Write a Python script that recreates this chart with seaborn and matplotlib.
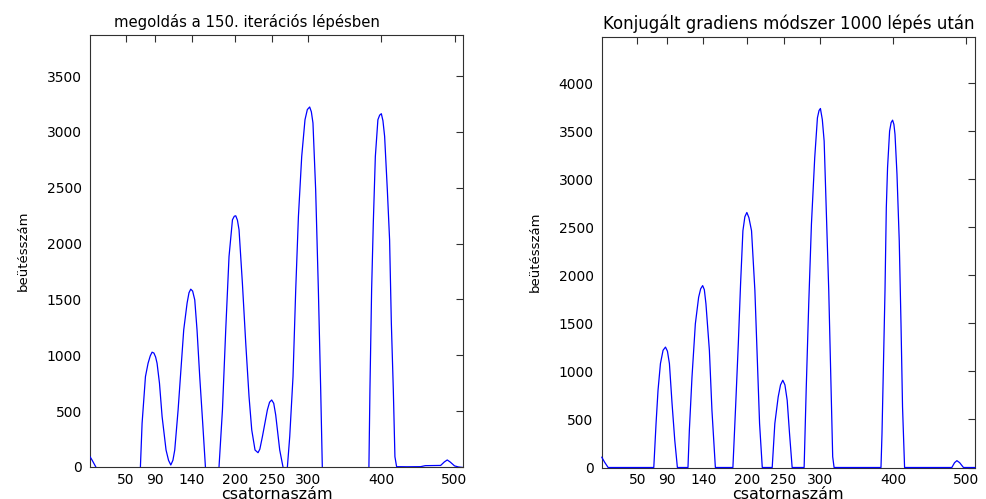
import numpy as np
import pandas as pd
import matplotlib
matplotlib.use("Agg")
import matplotlib.pyplot as plt
import seaborn as sns

# Reconstructed spectrum after 150 iterations (negative parts fall below the axis)
left_channel = [1, 4, 9, 20, 40, 60, 70, 72.3, 76.9, 80.5, 83.5, 86, 88.5, 90.8, 92.8,
                96.1, 99.7, 105.1, 108.5, 111.6, 114.5, 117, 121.6, 124.8, 129.3,
                133.9, 136.5, 138.9, 141.5, 144.4, 147.5, 151.2, 155.3, 159, 168,
                177.6, 182.3, 186.8, 191.3, 196, 198.5, 200.5, 202.8, 205, 209.6,
                214.2, 218.7, 222.4, 226.9, 231, 233.5, 237, 243.8, 246.8, 249.7,
                252.5, 255.2, 260.7, 265.2, 268, 271.2, 274.4, 278.9, 282.6, 286.3,
                290.8, 295.3, 298.5, 301.7, 304, 306.2, 309.9, 313.6, 316.8, 319,
                335, 355, 372, 382.8, 384.2, 386.5, 388.8, 391.6, 395.1, 397.5,
                399.8, 402, 404.3, 408, 411.1, 413.5, 416.2, 418.4, 420.7, 435,
                453.6, 460, 481, 486, 490, 494, 500, 505.5, 512]
left_counts = [92, 60, 0, -200, -300, -200, 0, 391, 809, 929, 995, 1028, 1020, 985, 929,
               750, 451, 152, 60, 18, 60, 152, 511, 809, 1228,
               1467, 1560, 1592, 1575, 1496, 1228, 809, 391, 0, -250,
               0, 511, 1228, 1884, 2213, 2245, 2249, 2210, 2124, 1646,
               1108, 630, 332, 152, 128, 160, 272, 511, 580, 600,
               570, 466, 152, 0, -40, 0, 272, 809, 1586, 2243,
               2780, 3109, 3200, 3223, 3180, 3080, 2482, 1586, 690, 0,
               -400, -500, -300, 0, 690, 1586, 2184, 2780, 3109, 3150,
               3163, 3100, 2960, 2482, 2034, 1288, 690, 92, 3, 2,
               3, 12, 14, 45, 63, 45, 10, 0, -5]

# Conjugate gradient solution after 1000 steps (non-negative)
right_channel = [1, 5, 9.8, 72.3, 75.4, 78.1, 81.4, 85, 88.3, 91, 93.7, 97.3, 101, 104.6,
                 119.1, 121, 124.6, 129.2, 133.7, 136.5, 139.2, 141.5, 143.7, 148.4,
                 151.9, 156.6, 180.6, 184.3, 188, 191.1, 194.3, 197, 199.7, 202.5,
                 206.1, 210.7, 213.9, 217.1, 220.8, 234.4, 238, 242.6, 245.8, 248.9,
                 251.8, 254.9, 258.1, 261.7, 278.1, 280.9, 284.4, 288.1, 292.6, 296.3,
                 298.5, 300.4, 303, 305.5, 309, 311.8, 314.5, 317.2, 319.1, 383.3,
                 384.7, 386.9, 388.8, 390.6, 392.3, 395.1, 397.2, 399.2, 401, 402.5,
                 405.2, 408.3, 410.7, 412.8, 415.6, 480.3, 484, 487.2, 491, 496.2, 512]
right_counts = [108, 55, 0, 0, 458, 804, 1081, 1220, 1253, 1210, 1081, 666, 285, 0,
                0, 389, 942, 1496, 1772, 1860, 1893, 1850, 1703, 1219,
                596, 0, 0, 631, 1288, 1911, 2464, 2610, 2654, 2600,
                2464, 1841, 1149, 458, 0, 0, 458, 735, 860, 908,
                860, 700, 355, 0, 0, 804, 1703, 2533, 3224, 3639,
                3715, 3736, 3620, 3397, 2533, 1841, 977, 112, 0, 0,
                355, 1149, 1841, 2705, 3120, 3501, 3590, 3615, 3570, 3467,
                3052, 2360, 1496, 631, 0, 0, 50, 71, 50, 0, 0]

x_ticks = [50, 90, 140, 200, 250, 300, 400, 500]
left_yticks = [0, 500, 1000, 1500, 2000, 2500, 3000, 3500]
right_yticks = [0, 500, 1000, 1500, 2000, 2500, 3000, 3500, 4000]

left_title = "megoldás a 150. iterációs lépésben"
right_title = "Konjugált gradiens módszer 1000 lépés után"
x_label = "csatornaszám"
y_label = "beütésszám"

sns.set_style("white")
plt.rcParams["font.family"] = ["DejaVu Sans"]
plt.rcParams["text.color"] = "black"
plt.rcParams["axes.labelcolor"] = "black"
plt.rcParams["xtick.color"] = "black"
plt.rcParams["ytick.color"] = "black"

W, H = 987, 499
fig = plt.figure(figsize=(W / 100, H / 100), dpi=100)
fig.patch.set_facecolor("white")

edge = "#303030"


def px_axes(x0, x1, ytop, ybot):
    return fig.add_axes([x0 / W, 1 - ybot / H, (x1 - x0) / W, (ybot - ytop) / H])


ax_l = px_axes(90, 463.3, 35, 467)
ax_r = px_axes(601.7, 975, 36.7, 467.5)

panels = [
    (ax_l, left_channel, left_counts, left_yticks, left_title, 0.42, 10.7, True),
    (ax_r, right_channel, right_counts, right_yticks, right_title, 0.5, 12.0, False),
]

for ax, xs, ys, yt, title, tx, tsize, clip in panels:
    df = pd.DataFrame({"csatorna": xs, "beutes": ys})
    sns.lineplot(data=df, x="csatorna", y="beutes", ax=ax, color="#0000ff",
                 linewidth=0.9, estimator=None, sort=False, zorder=3)
    for ln in ax.get_lines():
        ln.set_clip_on(clip)
    ax.set_xlim(1, 512)
    ax.set_ylim(0, 1.2 * max(ys))
    ax.set_xticks(x_ticks)
    ax.set_yticks(yt)
    ax.tick_params(direction="in", top=True, right=True, length=5, width=0.8,
                   color=edge, labelsize=10, labelcolor="black")
    ax.tick_params(axis="x", pad=4.0)
    ax.tick_params(axis="y", pad=5.8)
    for sp in ax.spines.values():
        sp.set_visible(True)
        sp.set_color(edge)
        sp.set_linewidth(0.8)
    ax.set_title(title, fontsize=tsize, x=tx, pad=5.8, color="black")
    ax.set_xlabel(x_label, fontsize=11.5)
    ax.set_ylabel(y_label, fontsize=9.5)
    ax.xaxis.set_label_coords(0.5, -0.046)
    ax.yaxis.set_label_coords(-0.161, 0.5)

fig.savefig("out.png", dpi=100, facecolor="white")
